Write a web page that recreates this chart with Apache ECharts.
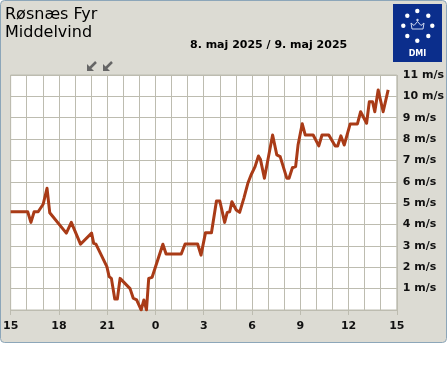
<!DOCTYPE html>
<html><head><meta charset="utf-8">
<script src="https://cdn.jsdelivr.net/npm/echarts@6/dist/echarts.min.js"></script>
<style>html,body{margin:0;padding:0;background:#fff;}#c{width:447px;height:370px;}</style>
</head><body><div id="c"></div>
<script>
// hours since 15:00 on 8 May
const hours = [0,1.06,1.26,1.46,1.71,2.02,2.26,2.43,3.46,3.77,4.34,5.03,5.16,5.30,5.98,6.12,6.26,6.47,6.63,6.80,7.42,7.62,7.83,8.11,8.28,8.44,8.58,8.79,9.46,9.66,10.60,10.84,11.62,11.83,12.11,12.48,12.79,13.0,13.30,13.46,13.61,13.75,14.02,14.23,14.50,14.74,14.94,15.19,15.40,15.52,15.77,16.28,16.54,16.75,17.16,17.30,17.51,17.71,17.86,18.12,18.31,18.80,19.15,19.35,19.77,20.17,20.32,20.52,20.73,21.10,21.55,21.75,22.12,22.29,22.49,22.63,22.84,23.15,23.46];
const speeds = [4.6,4.6,4.1,4.6,4.6,4.95,5.7,4.55,3.6,4.1,3.08,3.6,3.12,3.08,2.03,1.56,1.48,0.51,0.51,1.48,1.0,0.55,0.47,0.0,0.47,0.0,1.48,1.53,3.08,2.62,2.62,3.09,3.09,2.57,3.62,3.62,5.1,5.1,4.1,4.57,4.6,5.07,4.68,4.57,5.25,5.93,6.32,6.71,7.21,7.06,6.17,8.19,7.26,7.18,6.17,6.17,6.66,6.71,7.72,8.72,8.19,8.19,7.68,8.19,8.19,7.68,7.68,8.15,7.72,8.71,8.71,9.28,8.74,9.75,9.75,9.28,10.3,9.28,10.3];
const xTicks = [0,3,6,9,12,15,18,21,24];
const xTickLabels = ['15','18','21','0','3','6','9','12','15'];
const yTickLabels = ['','1 m/s','2 m/s','3 m/s','4 m/s','5 m/s','6 m/s','7 m/s','8 m/s','9 m/s','10 m/s','11 m/s'];

const GRID = '#bdbcb0';
const chart = echarts.init(document.getElementById('c'));
const lbl = {color:'#111', fontFamily:'DejaVu Sans', fontWeight:'bold', fontSize:11};
const dots = [[417.3,11],[407.3,15.7],[428.3,15.7],[403.3,25.7],[432.3,25.7],[407.3,36],[428.3,36],[417.3,40.7]];
const graphics = [
  {type:'rect', z:-10, shape:{x:0.5,y:0.5,width:446,height:342,r:4}, style:{fill:'#dcdbd3', stroke:'#8ca6b9', lineWidth:1}},
  {type:'text', left:5, top:7, style:{text:'Røsnæs Fyr', font:'16px "DejaVu Sans"', fill:'#000'}},
  {type:'text', left:5, top:25, style:{text:'Middelvind', font:'16px "DejaVu Sans"', fill:'#000'}},
  {type:'text', left:190, top:40, style:{text:'8. maj 2025 / 9. maj 2025', font:'bold 11px "DejaVu Sans"', fill:'#000'}},
  {type:'rect', shape:{x:393,y:4,width:49,height:58}, style:{fill:'#0b2e8c'}},
  {type:'text', x:417.5, y:54, style:{text:'DMI', font:'bold 8px "DejaVu Sans"', fill:'#fff', align:'center', verticalAlign:'middle'}},
  {type:'polygon', shape:{points:[[412,29],[423,29],[424,23],[421,25.5],[417.5,21.5],[414,25.5],[411,23]]}, style:{fill:'none', stroke:'#cfd8ef', lineWidth:1}},
  {type:'circle', shape:{cx:417.5,cy:20,r:1.2}, style:{fill:'#cfd8ef'}}
];
dots.forEach(d=>graphics.push({type:'circle', shape:{cx:d[0],cy:d[1],r:2.2}, style:{fill:'#fff'}}));
[[96,62],[112,62]].forEach(p=>{
  const x=p[0], y=p[1];
  graphics.push({type:'line', shape:{x1:x,y1:y,x2:x-6,y2:y+6}, style:{stroke:'#666', lineWidth:2.5}});
  graphics.push({type:'polygon', shape:{points:[[x-9,y+9],[x-9,y+2],[x-2,y+9]]}, style:{fill:'#666'}});
});

chart.setOption({
  animation:false,
  backgroundColor:'#ffffff',
  graphic: graphics,
  grid:{left:10, top:75, width:390, height:235, show:true, backgroundColor:'#fff', borderColor:GRID, borderWidth:1, containLabel:false},
  xAxis:[
    {type:'value', min:0, max:24, interval:3, position:'bottom', offset:5,
     axisLine:{show:false}, axisTick:{show:true, length:5, lineStyle:{color:GRID}},
     axisLabel:Object.assign({margin:6, formatter:v=>xTickLabels[xTicks.indexOf(v)]}, lbl),
     splitLine:{show:false}},
    {type:'value', min:0, max:24, interval:1, position:'bottom',
     axisLine:{show:true, lineStyle:{color:GRID}}, axisTick:{show:false}, axisLabel:{show:false},
     splitLine:{show:true, lineStyle:{color:GRID, width:1}}}
  ],
  yAxis:{type:'value', position:'right', min:0, max:11, interval:1,
     axisLine:{show:false}, axisTick:{show:false},
     axisLabel:Object.assign({margin:6, formatter:v=>yTickLabels[v]}, lbl),
     splitLine:{show:true, lineStyle:{color:GRID, width:1}}},
  series:[{type:'line', xAxisIndex:0, data:hours.map((h,i)=>[h,speeds[i]]), showSymbol:false, symbol:'none',
     lineStyle:{color:'#a93b17', width:3, join:'round'}}]
});
</script></body></html>
